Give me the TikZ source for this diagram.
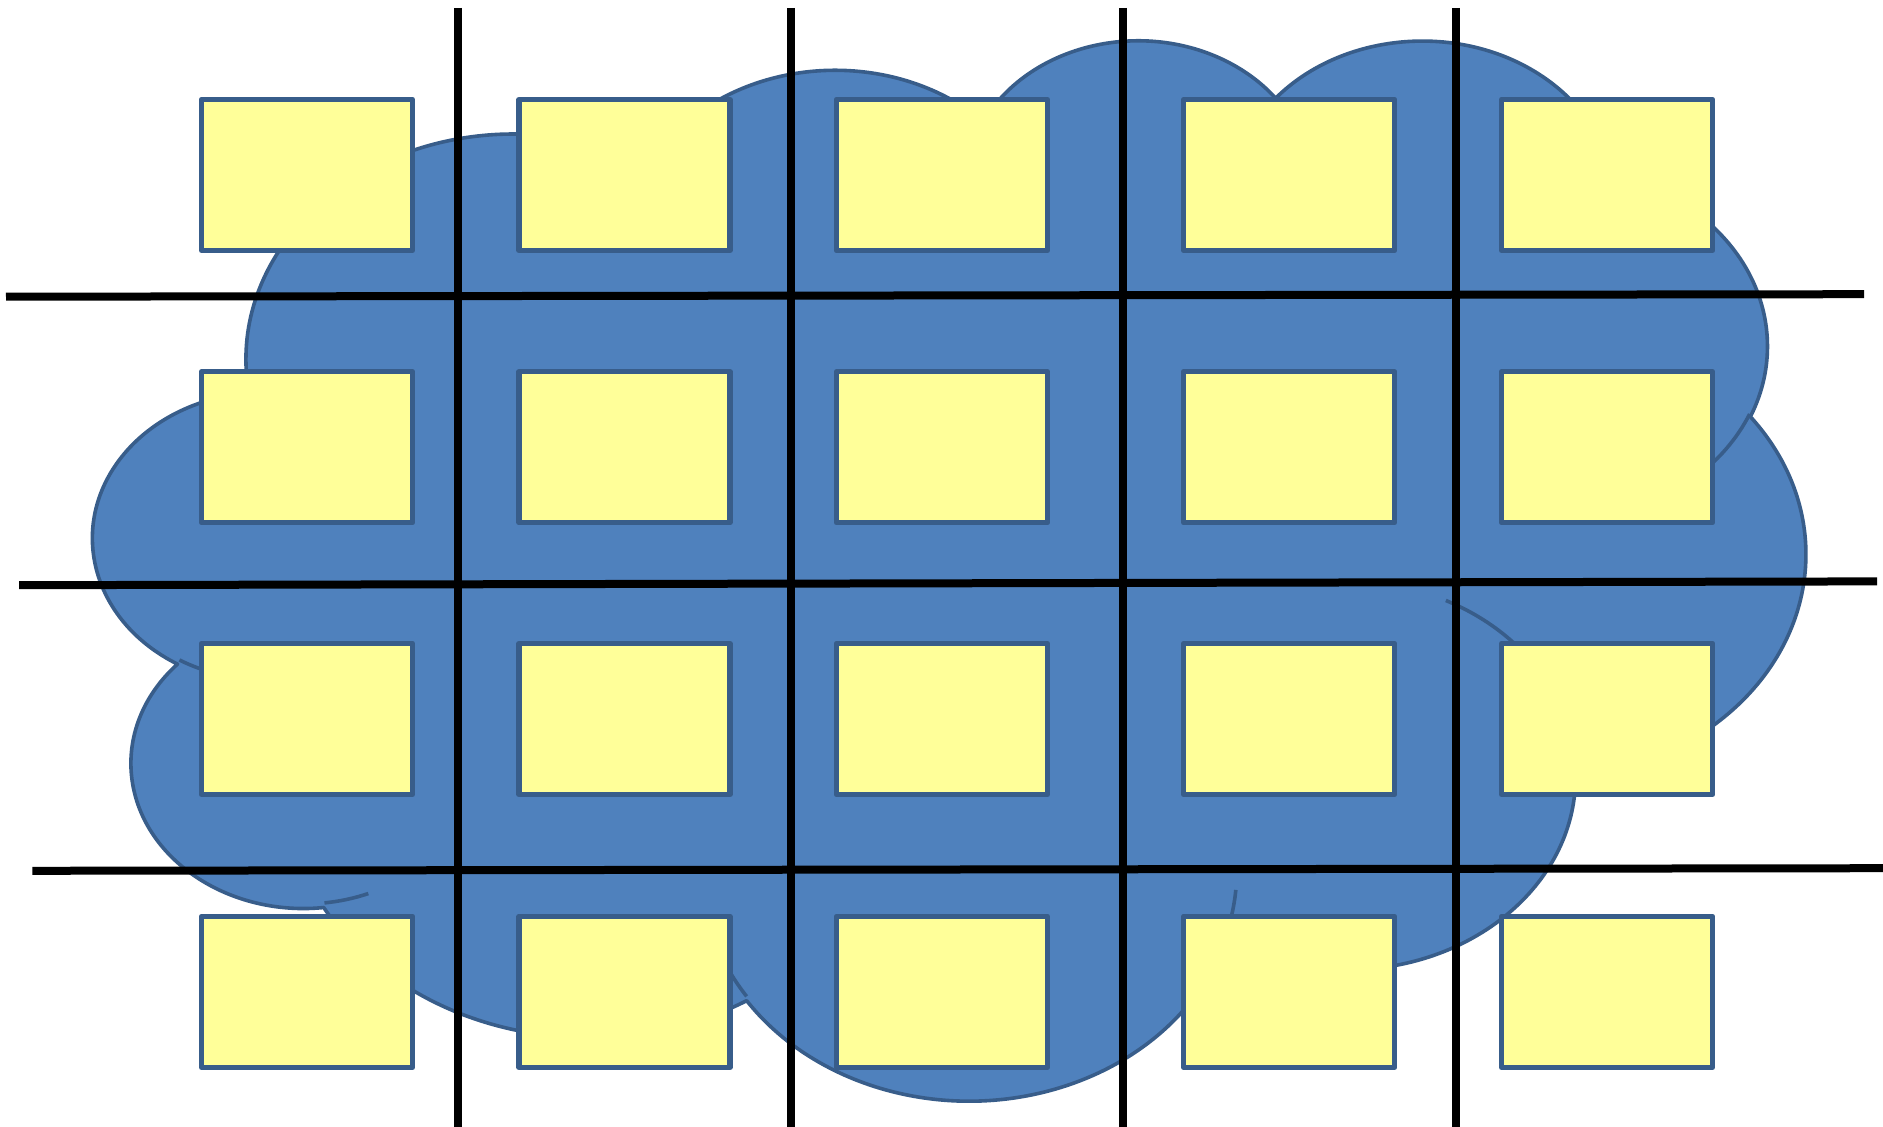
\documentclass[tikz,border=0pt]{standalone}
\definecolor{cloudfill}{HTML}{4F81BD}
\definecolor{cloudline}{HTML}{385D8A}
\definecolor{cellfill}{HTML}{FFFF99}
\tikzset{
  cell/.style={draw=cloudline, fill=cellfill, line width=2.6pt, line join=round,
    minimum width=105.5pt, minimum height=75.5pt, inner sep=0pt, outer sep=0pt},
  gridline/.style={draw=black, line width=4pt},
  cloudshape/.style={fill=cloudfill, draw=cloudline, line width=1.8pt, line join=round},
  cloudmark/.style={draw=cloudline, line width=1.8pt},
}
\begin{document}
\begin{tikzpicture}[x=0.5pt, y=-0.5pt]
\useasboundingbox (0,0) rectangle (1883,1127);
% cloud (coordinates in 1/1000 of the 43200 unit shape box)
\begin{scope}[shift={(46.95pt,-18.65pt)}, x=1pt, y=1pt, xscale=19.8065, yscale=-12.2675]
\path[cloudshape] (3.9,14.37)
  arc[x radius=6.753, y radius=9.19,  start angle=-187.746, delta angle=128.106]
  arc[x radius=5.333, y radius=7.267, start angle=-152.02,  delta angle=106.58]
  arc[x radius=4.365, y radius=5.945, start angle=-153.48,  delta angle=116.15]
  arc[x radius=4.857, y radius=6.595, start angle=-139.70,  delta angle=129.49]
  arc[x radius=5.333, y radius=7.273, start angle=-74.77,   delta angle=97.98]
  arc[x radius=6.775, y radius=9.22,  start angle=-37.53,   delta angle=119.39]
  arc[x radius=5.785, y radius=7.867, start angle=0.46,     delta angle=121.52]
  arc[x radius=6.752, y radius=9.215, start angle=16.85,    delta angle=129.40]
  arc[x radius=7.72,  y radius=10.543,start angle=58.98,    delta angle=91.22]
  arc[x radius=4.36,  y radius=5.918, start angle=-276.69,  delta angle=139.80]
  arc[x radius=4.345, y radius=5.945, start angle=-239.64,  delta angle=143.75]
  -- cycle;
\path[cloudmark] (4.693,26.177) arc[x radius=4.345, y radius=5.945, start angle=85.546, delta angle=34.81];
\path[cloudmark] (6.928,34.899) arc[x radius=4.36, y radius=5.918, start angle=68.24, delta angle=15.07];
\path[cloudmark] (16.478,39.09) arc[x radius=6.752, y radius=9.215, start angle=146.25, delta angle=12.22];
\path[cloudmark] (28.827,34.751) arc[x radius=6.752, y radius=9.215, start angle=4.738, delta angle=12.11];
\path[cloudmark] (34.129,22.954) arc[x radius=5.785, y radius=7.867, start angle=-64.03, delta angle=64.49];
\path[cloudmark] (41.798,15.354) arc[x radius=5.333, y radius=7.273, start angle=23.21, delta angle=26.43];
\end{scope}
% cells
\foreach \c/\x in {1/307,2/624.5,3/941.9,4/1289.2,5/1607}{
  \foreach \r/\y in {1/175,2/447.3,3/719,4/991.9}{
    \node[cell] (c\r\c) at (\x,\y) {};
  }
}
% grid lines
\coordinate (v1t) at (457.8,8);   \coordinate (v1b) at (457.8,1127);
\coordinate (v2t) at (790.6,8);   \coordinate (v2b) at (790.6,1127);
\coordinate (v3t) at (1123.3,8);  \coordinate (v3b) at (1123.3,1127);
\coordinate (v4t) at (1455.8,8);  \coordinate (v4b) at (1455.8,1127);
\coordinate (h1l) at (6,296.7);   \coordinate (h1r) at (1864,294.2);
\coordinate (h2l) at (19.2,585.2);\coordinate (h2r) at (1877,581.4);
\coordinate (h3l) at (32.4,870.8);\coordinate (h3r) at (1883,868.2);
\draw[gridline] (v1t) -- (v1b);
\draw[gridline] (v2t) -- (v2b);
\draw[gridline] (v3t) -- (v3b);
\draw[gridline] (v4t) -- (v4b);
\draw[gridline] (h1l) -- (h1r);
\draw[gridline] (h2l) -- (h2r);
\draw[gridline] (h3l) -- (h3r);
\end{tikzpicture}
\end{document}
